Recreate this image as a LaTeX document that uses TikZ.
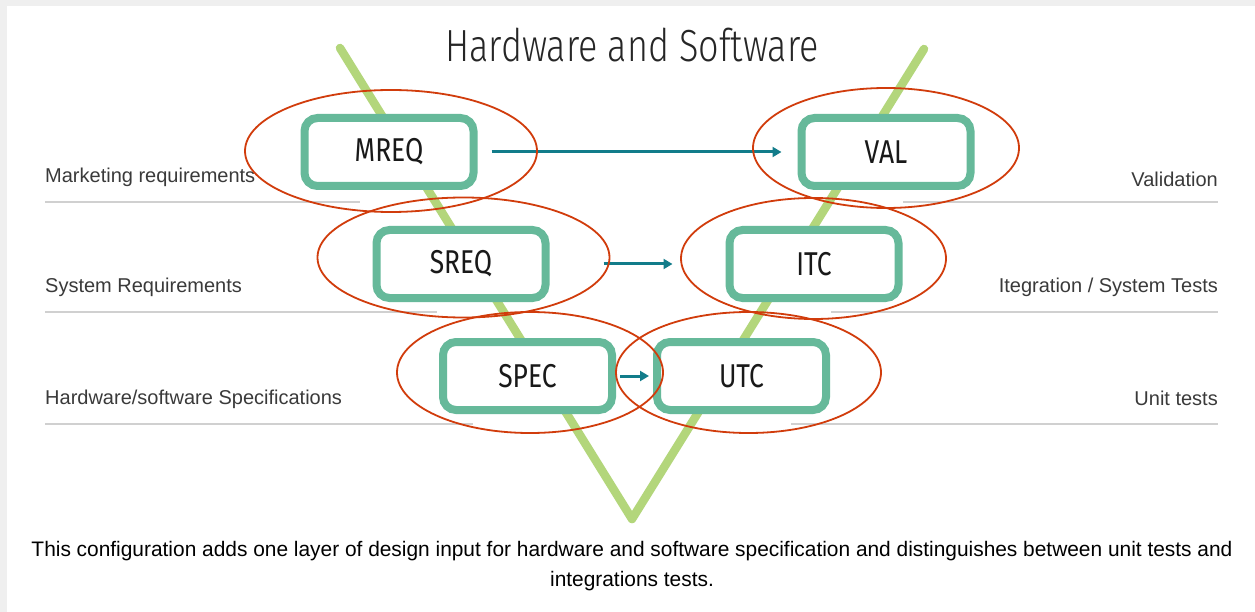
\documentclass[tikz,border=0pt]{standalone}
\usepackage{fontspec}
\setmainfont{Liberation Sans}
\newfontfamily\titlefont{Fira Sans Light}
\newfontfamily\boxfont{Fira Sans}
\usetikzlibrary{arrows.meta}
\definecolor{vgreen}{HTML}{B3D67B}
\definecolor{boxgreen}{HTML}{66B99A}
\definecolor{ellred}{HTML}{D13C0C}
\definecolor{arrteal}{HTML}{127C8A}
\definecolor{rulegray}{HTML}{D0D0D0}
\definecolor{labelgray}{HTML}{3A3A3A}
\definecolor{framegray}{HTML}{EFEFEF}
\tikzset{
  vbox/.style={draw=boxgreen, line width=8pt, fill=white, rounded corners=13pt,
    minimum width=169pt, minimum height=68pt, inner sep=0pt,
    font=\boxfont\fontsize{33}{36}\selectfont, text=black!90},
  ring/.style={draw=ellred, line width=1.8pt},
  link/.style={draw=arrteal, line width=3pt, -{Triangle[length=9pt,width=10pt]}},
  vline/.style={draw=vgreen, line width=8.5pt, line cap=round, line join=round},
  rowrule/.style={draw=rulegray, line width=1.5pt},
  leftlab/.style={anchor=base west, inner sep=0pt, text=labelgray, font=\fontsize{20}{24}\selectfont},
  rightlab/.style={anchor=base east, inner sep=0pt, text=labelgray, font=\fontsize{20}{24}\selectfont},
}
\begin{document}
\begin{tikzpicture}[x=1pt,y=-1pt]
\useasboundingbox (0,0) rectangle (1255,612);
\fill[framegray] (0,0) rectangle (1255,612);
\fill[white] (7,6) rectangle (1255,612);

% V shape
\coordinate (vtl) at (340,48);
\coordinate (vbot) at (632,519);
\coordinate (vtr) at (924,49);
\draw[vline] (vtl) -- (vbot) -- (vtr);

% title
\node[inner sep=0pt, text=black!85] (title) at (632,45) {\scalebox{0.80}[1]{\titlefont\fontsize{45}{50}\selectfont Hardware and Software}};

% row rules
\coordinate (l1a) at (45,202); \coordinate (l1b) at (360,202);
\coordinate (l2a) at (45,312); \coordinate (l2b) at (437,312);
\coordinate (l3a) at (45,424); \coordinate (l3b) at (473,424);
\coordinate (r1a) at (903,202); \coordinate (r1b) at (1218,202);
\coordinate (r2a) at (831,312); \coordinate (r2b) at (1218,312);
\coordinate (r3a) at (791,424); \coordinate (r3b) at (1218,424);
\draw[rowrule] (l1a) -- (l1b);
\draw[rowrule] (l2a) -- (l2b);
\draw[rowrule] (l3a) -- (l3b);
\draw[rowrule] (r1a) -- (r1b);
\draw[rowrule] (r2a) -- (r2b);
\draw[rowrule] (r3a) -- (r3b);

% labels
\node[leftlab] (lab1) at (45,183) {Marketing requirements};
\node[leftlab] (lab2) at (45,293) {System Requirements};
\node[leftlab] (lab3) at (45,404) {Hardware/software Specifications};
\node[rightlab] (rab1) at (1218,187) {Validation};
\node[rightlab] (rab2) at (1218,293) {Itegration / System Tests};
\node[rightlab] (rab3) at (1218,405) {Unit tests};

% boxes
\node[vbox] (mreq) at (389,152) {\scalebox{0.8}[1]{MREQ}};
\node[vbox] (val)  at (886,152) {\scalebox{0.8}[1]{VAL}};
\node[vbox] (sreq) at (461,264) {\scalebox{0.8}[1]{SREQ}};
\node[vbox] (itc)  at (814,264) {\scalebox{0.8}[1]{ITC}};
\node[vbox] (spec) at (527.5,376) {\scalebox{0.8}[1]{SPEC}};
\node[vbox] (utc)  at (741.5,376) {\scalebox{0.8}[1]{UTC}};

% arrows
\draw[link, shorten <=14pt, shorten >=16pt] (mreq.east) -- (val.west);
\draw[link, shorten <=54pt, shorten >=53pt] (sreq.east) -- (itc.west);
\draw[link, shorten <=4pt, shorten >=4pt] (spec.east) -- (utc.west);

% red ellipses
\draw[ring] (391,151) ellipse [x radius=146pt, y radius=61pt];
\draw[ring] (886,148) ellipse [x radius=133pt, y radius=60pt];
\draw[ring] (463.5,257.5) ellipse [x radius=146pt, y radius=60pt];
\draw[ring] (813.5,258.5) ellipse [x radius=132.5pt, y radius=60.5pt];
\draw[ring] (530,372.5) ellipse [x radius=133pt, y radius=60.5pt];
\draw[ring] (748.5,372.5) ellipse [x radius=132.5pt, y radius=60.5pt];

% caption
\node[inner sep=0pt, anchor=north] (caption) at (632,535) {\scalebox{0.995}[1]{\fontsize{21}{30}\selectfont\begin{tabular}{@{}c@{}}This configuration adds one layer of design input for hardware and software specification and distinguishes between unit tests and\\[0pt] integrations tests.\end{tabular}}};
\end{tikzpicture}
\end{document}
